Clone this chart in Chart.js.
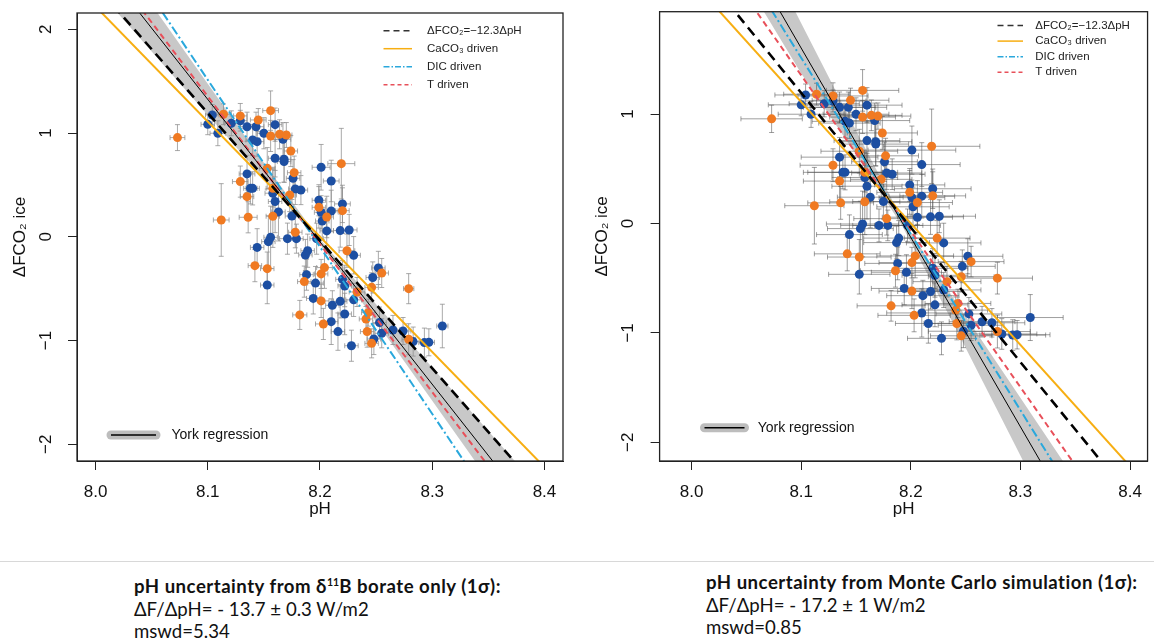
<!DOCTYPE html>
<html>
<head>
<meta charset="utf-8">
<script src="https://cdn.jsdelivr.net/npm/chart.js@4.4.1/dist/chart.umd.min.js"></script>
<style>
  body { margin: 0; background: #fff; width: 1154px; height: 642px; position: relative; overflow: hidden; }
  #leftChart { position: absolute; left: 0; top: 0; }
  #rightChart { position: absolute; left: 577px; top: 0; }
  .rule { position: absolute; left: 0; top: 561px; width: 1154px; height: 1px; background: #d8d8d8; }
  .note { position: absolute; font-family: Lato, "Open Sans", sans-serif; font-size: 18.6px; line-height: 22.5px; color: #111; white-space: nowrap; }
  .note b { font-weight: 700; letter-spacing: 0.5px; }
  .note sup { font-size: 10.5px; vertical-align: 7px; line-height: 0; letter-spacing: 0; }
</style>
</head>
<body>
<canvas id="leftChart" width="577" height="520"></canvas>
<canvas id="rightChart" width="577" height="520"></canvas>
<div class="rule"></div>
<div class="note" style="left:134px;top:575px">
  <b>pH uncertainty from δ<sup>11</sup>B borate only (1σ):</b><br>
  ΔF/ΔpH= - 13.7 ± 0.3 W/m2<br>
  mswd=5.34
</div>
<div class="note" style="left:706px;top:571px">
  <b>pH uncertainty from Monte Carlo simulation (1σ):</b><br>
  ΔF/ΔpH= - 17.2 ± 1 W/m2<br>
  mswd=0.85
</div>

<script>
// axis ticks
var xTicks = [8.0, 8.1, 8.2, 8.3, 8.4];
var yTicksLeft = [-2, -1, 0, 1, 2];
var yTicksRight = [-2, -1, 0, 1];

// samples (same pH / dFCO2 in both panels, only the pH error changes)
var orangePH = [8.073, 8.114, 8.129, 8.145, 8.156, 8.156, 8.164, 8.170, 8.174, 8.177,
                8.153, 8.129, 8.135, 8.158, 8.173, 8.158, 8.136, 8.112, 8.178, 8.142,
                8.153, 8.186, 8.201, 8.204, 8.201, 8.203, 8.182, 8.199, 8.206, 8.220,
                8.219, 8.224, 8.233, 8.243, 8.241, 8.242, 8.246, 8.255, 8.246, 8.279,
                8.279];
var orangeDF = [0.956, 1.181, 1.165, 1.126, 1.216, 0.972, 0.988, 0.981, 0.827, 0.618,
                0.660, 0.532, 0.387, 0.467, 0.403, 0.198, 0.188, 0.162, 0.044, -0.278,
                -0.307, -0.432, -0.358, -0.297, -0.618, -0.840, -0.753, 0.284, 0.191, 0.252,
                0.705, -0.134, -0.532, -0.731, -0.792, -0.914, -1.027, -0.349, -0.487, -0.500,
                -0.988];
var orangeErrY = [0.125, 0.10, 0.12, 0.11, 0.19, 0.15, 0.14, 0.12, 0.15, 0.16,
                  0.20, 0.15, 0.20, 0.18, 0.16, 0.30, 0.15, 0.35, 0.15, 0.155,
                  0.16, 0.15, 0.14, 0.20, 0.16, 0.15, 0.14, 0.20, 0.20, 0.22,
                  0.34, 0.16, 0.14, 0.13, 0.12, 0.15, 0.14, 0.14, 0.14, 0.145,
                  0.15];
var orangeErrBoron = [0.0066, 0.006, 0.006, 0.007, 0.007, 0.006, 0.006, 0.005, 0.006, 0.006,
                      0.007, 0.007, 0.006, 0.006, 0.006, 0.006, 0.008, 0.007, 0.006, 0.006,
                      0.006, 0.006, 0.006, 0.007, 0.007, 0.007, 0.0063, 0.006, 0.006, 0.006,
                      0.012, 0.007, 0.007, 0.006, 0.006, 0.006, 0.006, 0.006, 0.006, 0.0046,
                      0.006];
var orangeErrMC = [0.028, 0.030, 0.032, 0.035, 0.033, 0.030, 0.028, 0.030, 0.032, 0.030,
                   0.035, 0.030, 0.033, 0.030, 0.028, 0.032, 0.030, 0.027, 0.030, 0.030,
                   0.029, 0.032, 0.030, 0.035, 0.030, 0.033, 0.031, 0.030, 0.032, 0.030,
                   0.044, 0.030, 0.031, 0.030, 0.029, 0.030, 0.028, 0.030, 0.030, 0.032,
                   0.030];

var bluePH = [8.100, 8.104, 8.109, 8.121, 8.129, 8.135, 8.143, 8.150, 8.160, 8.140,
              8.144, 8.167, 8.160, 8.168, 8.168, 8.135, 8.138, 8.140, 8.176, 8.178,
              8.183, 8.158, 8.160, 8.163, 8.175, 8.156, 8.154, 8.171, 8.179, 8.144,
              8.153, 8.201, 8.210, 8.199, 8.201, 8.202, 8.210, 8.220, 8.206, 8.218,
              8.226, 8.197, 8.189, 8.187, 8.230, 8.188, 8.196, 8.194, 8.211, 8.218,
              8.220, 8.222, 8.230, 8.222, 8.210, 8.216, 8.228, 8.247, 8.252, 8.253,
              8.255, 8.248, 8.265, 8.274, 8.283, 8.293, 8.297, 8.309];
var blueDF = [1.084, 1.174, 0.998, 1.094, 1.119, 1.061, 1.061, 0.998, 1.081, 0.933,
              0.917, 0.940, 0.757, 0.747, 0.725, 0.606, 0.467, 0.467, 0.564, 0.461,
              0.450, 0.420, 0.340, 0.240, 0.200, -0.005, -0.047, -0.018, -0.018, -0.102,
              -0.465, 0.670, 0.538, 0.352, 0.236, 0.152, 0.249, 0.317, 0.057, 0.060,
              0.066, -0.018, -0.134, -0.175, -0.178, -0.365, -0.446, -0.594, -0.660, -0.622,
              -0.410, -0.474, -0.608, -0.744, -0.818, -0.914, -1.050, -0.392, -0.300, -0.827,
              -0.930, -0.985, -0.898, -0.908, -1.010, -1.020, -1.017, -0.860];
var blueErrY = [0.10, 0.10, 0.12, 0.12, 0.10, 0.14, 0.14, 0.15, 0.16, 0.15,
                0.14, 0.16, 0.18, 0.22, 0.20, 0.18, 0.15, 0.16, 0.18, 0.15,
                0.14, 0.25, 0.30, 0.28, 0.16, 0.30, 0.25, 0.15, 0.14, 0.18,
                0.18, 0.22, 0.20, 0.15, 0.16, 0.18, 0.20, 0.18, 0.14, 0.16,
                0.15, 0.15, 0.16, 0.15, 0.18, 0.15, 0.16, 0.15, 0.14, 0.16,
                0.18, 0.20, 0.16, 0.20, 0.22, 0.18, 0.15, 0.15, 0.16, 0.15,
                0.14, 0.15, 0.14, 0.13, 0.14, 0.14, 0.13, 0.21];
var blueErrBoron = [0.006, 0.006, 0.007, 0.006, 0.006, 0.006, 0.007, 0.006, 0.006, 0.006,
                    0.006, 0.007, 0.006, 0.006, 0.006, 0.007, 0.006, 0.006, 0.006, 0.006,
                    0.006, 0.007, 0.006, 0.006, 0.006, 0.006, 0.006, 0.007, 0.006, 0.006,
                    0.006, 0.008, 0.007, 0.006, 0.006, 0.006, 0.006, 0.007, 0.006, 0.006,
                    0.007, 0.006, 0.006, 0.006, 0.006, 0.006, 0.007, 0.006, 0.006, 0.006,
                    0.006, 0.006, 0.007, 0.006, 0.006, 0.006, 0.006, 0.006, 0.006, 0.006,
                    0.006, 0.006, 0.006, 0.007, 0.006, 0.005, 0.005, 0.005];
var blueErrMC = [0.030, 0.028, 0.030, 0.032, 0.030, 0.033, 0.035, 0.030, 0.032, 0.030,
                 0.028, 0.032, 0.030, 0.033, 0.030, 0.035, 0.036, 0.034, 0.030, 0.032,
                 0.030, 0.030, 0.032, 0.030, 0.028, 0.033, 0.030, 0.035, 0.032, 0.030,
                 0.028, 0.040, 0.035, 0.032, 0.030, 0.033, 0.030, 0.035, 0.032, 0.030,
                 0.033, 0.030, 0.032, 0.030, 0.034, 0.030, 0.032, 0.030, 0.033, 0.030,
                 0.032, 0.030, 0.034, 0.030, 0.032, 0.030, 0.031, 0.030, 0.032, 0.030,
                 0.030, 0.032, 0.030, 0.030, 0.032, 0.030, 0.030, 0.030];

// straight reference lines, given at both ends of the pH range
var linePH = [7.95, 8.45];
var theoryDF = [3.038, -3.112];   // dFCO2 = -12.3 dpH
var caco3DF = [2.775, -2.775];
var dicDF = [3.928, -4.122];
var tempDF = [3.491, -3.634];
var yorkLeftDF = [3.384, -3.481];
var yorkRightDF = [4.197, -4.453];

// York regression confidence bands
var bandLeftPH = [7.98, 8.04, 8.10, 8.15, 8.1965, 8.25, 8.30, 8.36, 8.42];
var bandLeftHi = [3.30, 2.39, 1.475, 0.713, 0.02, -0.65, -1.26, -1.995, -2.73];
var bandLeftLo = [2.64, 1.91, 1.175, 0.563, -0.02, -0.82, -1.58, -2.495, -3.41];
var bandRightPH = [7.98, 8.05, 8.10, 8.15, 8.1926, 8.24, 8.29, 8.34, 8.42];
var bandRightHi = [4.20, 2.82, 1.83, 0.85, 0.03, -0.70, -1.445, -2.19, -3.38];
var bandRightLo = [3.16, 2.20, 1.37, 0.63, -0.03, -0.94, -1.925, -2.91, -4.48];

var BLUE = '#1d4fa2';
var ORANGE = '#f07a22';
var GOLD = '#f7ae12';
var CYAN = '#2aa8dc';
var RED = '#e8505a';
var AXIS_FONT = '17px "Liberation Sans", Arial, Helvetica, sans-serif';

Chart.defaults.font.family = '"Liberation Sans", Arial, Helvetica, sans-serif';
Chart.defaults.color = '#111';

function pts(xs, ys) {
  var out = [];
  for (var i = 0; i < xs.length; i++) out.push({x: xs[i], y: ys[i]});
  return out;
}

function minusLabel(v) {
  return v < 0 ? '\u2212' + Math.abs(v) : String(v);
}

// error bars drawn through the chart scales, just before the point layers
var errorBars = {
  id: 'errorBars',
  beforeDatasetDraw: function(chart, args, opts) {
    if (args.index !== opts.beforeIndex) return;
    var ctx = chart.ctx, xs = chart.scales.x, ys = chart.scales.y, a = chart.chartArea;
    var cap = 2.5;
    ctx.save();
    ctx.beginPath();
    ctx.rect(a.left, a.top, a.right - a.left, a.bottom - a.top);
    ctx.clip();
    ctx.strokeStyle = opts.color;
    ctx.lineWidth = 1;
    opts.sets.forEach(function(s) {
      for (var i = 0; i < s.ph.length; i++) {
        var px = xs.getPixelForValue(s.ph[i]);
        var py = ys.getPixelForValue(s.df[i]);
        var x0 = xs.getPixelForValue(s.ph[i] - s.ex[i]);
        var x1 = xs.getPixelForValue(s.ph[i] + s.ex[i]);
        var y0 = ys.getPixelForValue(s.df[i] - s.ey[i]);
        var y1 = ys.getPixelForValue(s.df[i] + s.ey[i]);
        ctx.beginPath();
        ctx.moveTo(x0, py); ctx.lineTo(x1, py);
        ctx.moveTo(x0, py - cap); ctx.lineTo(x0, py + cap);
        ctx.moveTo(x1, py - cap); ctx.lineTo(x1, py + cap);
        ctx.moveTo(px, y0); ctx.lineTo(px, y1);
        ctx.moveTo(px - cap, y0); ctx.lineTo(px + cap, y0);
        ctx.moveTo(px - cap, y1); ctx.lineTo(px + cap, y1);
        ctx.stroke();
      }
    });
    ctx.restore();
  }
};

// R style box, rotated y tick labels and the two legends
var plotFrame = {
  id: 'plotFrame',
  afterDraw: function(chart, args, opts) {
    var ctx = chart.ctx, a = chart.chartArea, ys = chart.scales.y;
    ctx.save();
    ctx.strokeStyle = '#222';
    ctx.lineWidth = 1.3;
    ctx.strokeRect(a.left, a.top, a.right - a.left, a.bottom - a.top);

    // y tick labels parallel to the axis (R las=0)
    ctx.font = AXIS_FONT;
    ctx.fillStyle = '#111';
    ctx.textAlign = 'center';
    ctx.textBaseline = 'middle';
    opts.yTicks.forEach(function(v) {
      ctx.save();
      ctx.translate(a.left - opts.yLabelOffset, ys.getPixelForValue(v));
      ctx.rotate(-Math.PI / 2);
      ctx.fillText(minusLabel(v), 0, 0);
      ctx.restore();
    });
    ctx.textAlign = 'left';

    var lg = opts.legend;
    ctx.font = '11.5px "Liberation Sans", Arial, sans-serif';
    ctx.fillStyle = '#222';
    lg.items.forEach(function(it, i) {
      var y = lg.y + i * lg.gap;
      ctx.beginPath();
      ctx.setLineDash(it.dash);
      ctx.strokeStyle = it.color;
      ctx.lineWidth = 1.5;
      ctx.moveTo(lg.x1, y); ctx.lineTo(lg.x2, y);
      ctx.stroke();
      ctx.setLineDash([]);
      ctx.fillText(it.label, lg.textX, y);
    });

    var yk = opts.york;
    ctx.lineCap = 'round';
    ctx.beginPath();
    ctx.strokeStyle = '#bdbdbd';
    ctx.lineWidth = 9;
    ctx.moveTo(yk.x1, yk.y); ctx.lineTo(yk.x2, yk.y);
    ctx.stroke();
    ctx.lineCap = 'butt';
    ctx.beginPath();
    ctx.strokeStyle = '#000';
    ctx.lineWidth = 1.6;
    ctx.moveTo(yk.x1, yk.y); ctx.lineTo(yk.x2, yk.y);
    ctx.stroke();
    ctx.font = '14px "Liberation Sans", Arial, sans-serif';
    ctx.fillStyle = '#111';
    ctx.fillText('York regression', yk.textX, yk.y);
    ctx.restore();
  }
};

var legendItems = [
  {label: '\u0394FCO\u2082=\u221212.3\u0394pH', color: '#333', dash: [6, 4]},
  {label: 'CaCO\u2083 driven', color: GOLD, dash: []},
  {label: 'DIC driven', color: CYAN, dash: [6, 2, 1.5, 2]},
  {label: 'T driven', color: RED, dash: [4, 3]}
];

function lineSet(label, ys, color, width, dash) {
  return {
    label: label, data: pts(linePH, ys), showLine: true, pointRadius: 0,
    borderColor: color, borderWidth: width, borderDash: dash, fill: false
  };
}

function makeChart(id, p) {
  var datasets = [
    lineSet('York', p.york, '#000', 1, []),
    lineSet('theory', theoryDF, '#000', 2.6, [10, 6]),
    lineSet('CaCO3', caco3DF, GOLD, 2, []),
    lineSet('DIC', dicDF, CYAN, 2, [9, 3, 2, 3]),
    lineSet('T', tempDF, RED, 2, [6, 4]),
    {label: 'orange', data: pts(orangePH, orangeDF), pointRadius: 4.5,
     pointBackgroundColor: ORANGE, pointBorderWidth: 0, showLine: false},
    {label: 'blue', data: pts(bluePH, blueDF), pointRadius: 4.5,
     pointBackgroundColor: BLUE, pointBorderWidth: 0, showLine: false},
    {label: 'bandHi', data: pts(p.bandPH, p.bandHi), showLine: true, pointRadius: 0,
     borderWidth: 0, backgroundColor: 'rgba(190,190,190,0.85)', fill: '+1'},
    {label: 'bandLo', data: pts(p.bandPH, p.bandLo), showLine: true, pointRadius: 0,
     borderWidth: 0, fill: false}
  ];

  return new Chart(document.getElementById(id), {
    type: 'scatter',
    data: {datasets: datasets},
    plugins: [errorBars, plotFrame],
    options: {
      responsive: false,
      animation: false,
      events: [],
      layout: {padding: {left: 0, top: p.top, right: p.right, bottom: 0}},
      scales: {
        x: {
          min: p.xmin, max: p.xmax,
          afterBuildTicks: function(s) { s.ticks = xTicks.map(function(v) { return {value: v}; }); },
          afterFit: function(s) { s.height = 59; },
          ticks: {font: {size: 17}, padding: 12, maxRotation: 0, autoSkip: false,
                  callback: function(v) { return v.toFixed(1); }},
          grid: {drawOnChartArea: false, drawTicks: true, tickLength: 9, color: '#222'},
          border: {display: true, color: '#222'},
          title: {display: true, text: 'pH', font: {size: 17}, padding: {top: 0, bottom: 0}}
        },
        y: {
          min: p.ymin, max: p.ymax,
          afterBuildTicks: function(s) { s.ticks = p.yTicks.map(function(v) { return {value: v}; }); },
          afterFit: function(s) { s.width = p.yWidth; },
          ticks: {display: false},
          grid: {drawOnChartArea: false, drawTicks: true, tickLength: 9, color: '#222'},
          border: {display: true, color: '#222'},
          title: {display: true, text: '\u0394FCO\u2082 ice', font: {size: 17},
                  padding: {top: p.titlePad, bottom: 0}}
        }
      },
      plugins: {
        legend: {display: false},
        tooltip: {enabled: false},
        errorBars: {
          beforeIndex: 6,
          color: p.barColor,
          sets: [
            {ph: orangePH, df: orangeDF, ex: p.exOrange, ey: orangeErrY},
            {ph: bluePH, df: blueDF, ex: p.exBlue, ey: blueErrY}
          ]
        },
        plotFrame: {legend: p.legend, york: p.yorkLegend, yTicks: p.yTicks, yLabelOffset: p.yLabelOffset}
      }
    }
  });
}

makeChart('leftChart', {
  top: 13, right: 14, yWidth: 77, yLabelOffset: 30.5, titlePad: 10,
  xmin: 7.9835, xmax: 8.4165, ymin: -2.161, ymax: 2.157, yTicks: yTicksLeft,
  york: yorkLeftDF, bandPH: bandLeftPH, bandHi: bandLeftHi, bandLo: bandLeftLo,
  exOrange: orangeErrBoron, exBlue: blueErrBoron, barColor: 'rgba(140,140,140,0.75)',
  legend: {x1: 383.5, x2: 412, textX: 427, y: 30.7, gap: 18, items: legendItems},
  yorkLegend: {x1: 111, x2: 156, y: 435, textX: 171.5}
});

makeChart('rightChart', {
  top: 11.7, right: 1, yWidth: 82.6, yLabelOffset: 31, titlePad: 15.6,
  xmin: 7.9708, xmax: 8.416, ymin: -2.171, ymax: 1.935, yTicks: yTicksRight,
  york: yorkRightDF, bandPH: bandRightPH, bandHi: bandRightHi, bandLo: bandRightLo,
  exOrange: orangeErrMC, exBlue: blueErrMC, barColor: 'rgba(80,80,80,0.55)',
  legend: {x1: 420.5, x2: 446, textX: 458.3, y: 25.5, gap: 15.6, items: legendItems},
  yorkLegend: {x1: 127.5, x2: 167.5, y: 427.7, textX: 180.7}
});
</script>
</body>
</html>
